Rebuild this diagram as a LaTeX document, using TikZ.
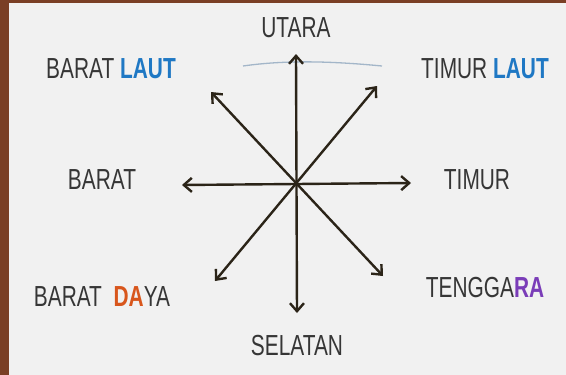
\documentclass[tikz,border=0pt]{standalone}
\usepackage{fontspec}
\usepackage{tikz}
\usetikzlibrary{positioning, arrows.meta}
\newfontfamily\boardfont[FakeStretch=0.72]{Liberation Sans}
\definecolor{woodBrown}{HTML}{7A3F25}
\definecolor{boardWhite}{HTML}{F1F1F1}
\definecolor{inkGray}{HTML}{363636}
\definecolor{arrowInk}{HTML}{2B2418}
\definecolor{lautBlue}{HTML}{1F78C4}
\definecolor{dayaOrange}{HTML}{D8561C}
\definecolor{raPurple}{HTML}{7A3DB8}
\definecolor{arcBlue}{HTML}{A3B6C9}

\begin{document}
\begin{tikzpicture}[x=1pt, y=-1pt,
  font=\boardfont\fontsize{29}{29}\selectfont,
  dirlabel/.style={text=inkGray, inner sep=0pt, anchor=center},
  windarrow/.style={draw=arrowInk, line width=2.4pt,
    {Straight Barb[length=8pt, width=14pt]}-{Straight Barb[length=8pt, width=14pt]}}
]

% papan tulis
\useasboundingbox (0,0) rectangle (566,375);
\fill[woodBrown] (0,0) rectangle (566,375);
\fill[boardWhite] (9,3) rectangle (566,375);

% ujung panah
\coordinate (pusat) at (297,184);
\coordinate (utaraTip) at (296,54);
\coordinate (selatanTip) at (297,313);
\coordinate (baratTip) at (182,185);
\coordinate (timurTip) at (411,183);
\coordinate (blTip) at (211,92);
\coordinate (tgTip) at (383,276);
\coordinate (tlTip) at (377,86);
\coordinate (bdTip) at (215,281);

% garis lengkung biru
\draw[arcBlue, line width=1.3pt] (243,66) .. controls (285,60) and (330,61) .. (382,66);

\draw[windarrow] (utaraTip) -- (selatanTip);
\draw[windarrow] (baratTip) -- (timurTip);
\draw[windarrow] (blTip) -- (tgTip);
\draw[windarrow] (bdTip) -- (tlTip);

% nama arah
\node[dirlabel] (utara) at (296,28) {UTARA};
\node[dirlabel] (selatan) at (297,346) {SELATAN};
\node[dirlabel] (barat) at (102,180) {BARAT};
\node[dirlabel] (timur) at (477,180) {TIMUR};
\node[dirlabel] (baratLaut) at (111,69) {BARAT \textcolor{lautBlue}{\bfseries LAUT}};
\node[dirlabel] (timurLaut) at (485,69) {TIMUR \textcolor{lautBlue}{\bfseries LAUT}};
\node[dirlabel] (baratDaya) at (102,297) {BARAT\ \ \textcolor{dayaOrange}{\bfseries DA}YA};
\node[dirlabel] (tenggara) at (485,288) {TENGGA\textcolor{raPurple}{\bfseries RA}};

\end{tikzpicture}
\end{document}
